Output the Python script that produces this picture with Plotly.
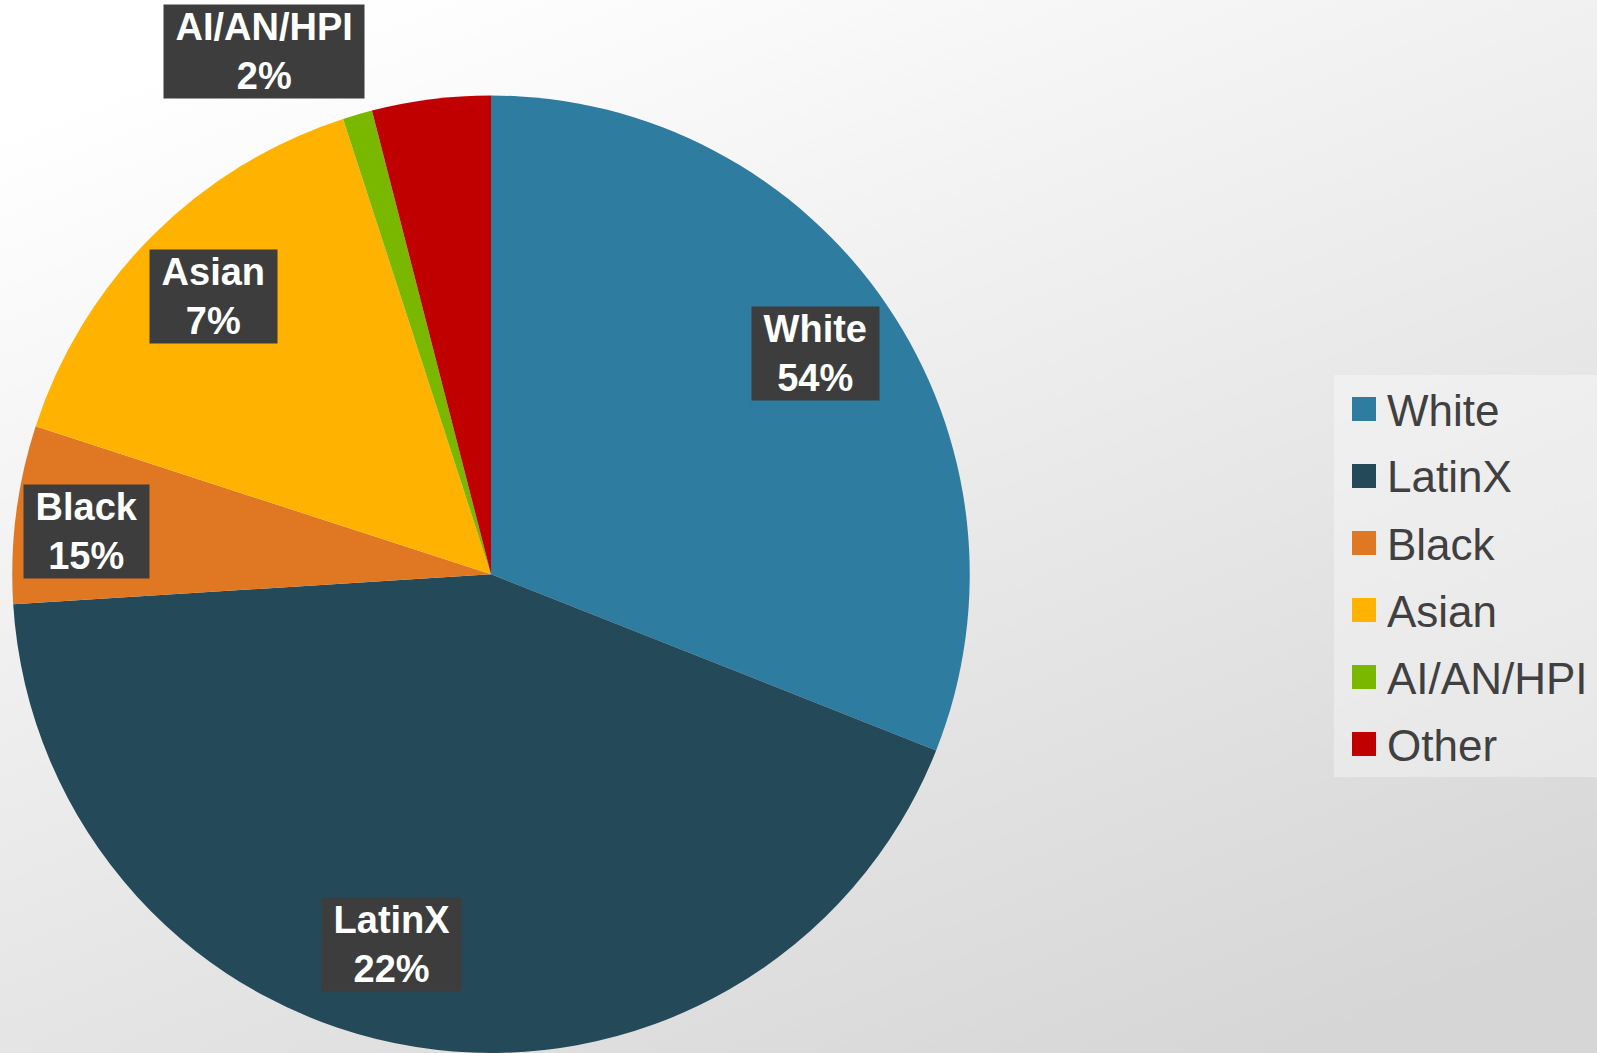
import base64
import math
import plotly.graph_objects as go

# ---------------- data ----------------
categories = ["White", "LatinX", "Black", "Asian", "AI/AN/HPI", "Other"]
slice_values = [31, 43, 6, 15, 1, 4]
label_texts = ["54%", "22%", "15%", "7%", "2%", ""]
colors = ["#2E7C9F", "#244A5A", "#E07722", "#FFB300", "#7AB800", "#C00000"]

# ---------------- layout geometry ----------------
W, H = 1597, 1053
CX, CY, R = 491, 574.5, 479  # pie centre / radius in pixels

dom_x = [(CX - R) / W, (CX + R) / W]
dom_y = [max(0, 1 - (CY + R) / H), 1 - (CY - R) / H]

fig = go.Figure()
fig.add_trace(go.Pie(
    labels=categories,
    values=slice_values,
    sort=False,
    direction="clockwise",
    rotation=0,
    marker=dict(colors=colors, line=dict(width=0)),
    textinfo="none",
    hoverinfo="label+percent",
    domain=dict(x=dom_x, y=dom_y),
    showlegend=False,
))

# background gradient
svg = (
    f'<svg xmlns="http://www.w3.org/2000/svg" width="{W}" height="{H}" preserveAspectRatio="none">'
    '<defs><linearGradient id="g" x1="0.2" y1="0" x2="0.8" y2="1">'
    '<stop offset="0" stop-color="#ffffff"/><stop offset="1" stop-color="#d6d6d6"/>'
    '</linearGradient></defs>'
    f'<rect width="{W}" height="{H}" fill="url(#g)"/></svg>'
)
bg_src = "data:image/svg+xml;base64," + base64.b64encode(svg.encode()).decode()

annotations = []
shapes = []

# data labels placed at slice mid-angles
label_r = 0.82
nudges = {"LatinX": (6.0, 0.80), "Black": (-1.2, 0.85), "AI/AN/HPI": (-7.3, 1.19)}
total = sum(slice_values)
cum = 0.0
for cat, v, t in zip(categories, slice_values, label_texts):
    mid = (cum + v / 2) / total * 360.0
    cum += v
    if not t:
        continue
    dang, rr = nudges.get(cat, (0.0, label_r))
    a = math.radians(mid + dang)
    px = CX + rr * R * math.sin(a)
    py = CY - rr * R * math.cos(a)
    annotations.append(dict(
        x=px / W, y=1 - py / H, xref="paper", yref="paper",
        xanchor="center", yanchor="middle", align="center",
        text=f"\u00a0{cat}\u00a0<br>{t}",
        showarrow=False,
        font=dict(family="Liberation Sans", size=38, color="white", weight="bold"),
        bgcolor="#3d3d3d", borderpad=1,
    ))

# custom legend
LEG_X0, LEG_Y0, LEG_Y1 = 1334, 375, 777
shapes.append(dict(type="rect", xref="paper", yref="paper",
                   x0=LEG_X0 / W, x1=1, y0=1 - LEG_Y1 / H, y1=1 - LEG_Y0 / H,
                   fillcolor="rgba(255,255,255,0.35)", line=dict(width=0), layer="below"))
first_y, step, sq = 409, 67, 24
for i, (cat, col) in enumerate(zip(categories, colors)):
    yc = first_y + i * step
    shapes.append(dict(type="rect", xref="paper", yref="paper",
                       x0=1352 / W, x1=(1352 + sq) / W,
                       y0=1 - (yc + sq / 2) / H, y1=1 - (yc - sq / 2) / H,
                       fillcolor=col, line=dict(width=0)))
    annotations.append(dict(
        x=1385 / W, y=1 - (yc + 1) / H, xref="paper", yref="paper",
        xanchor="left", yanchor="middle", text=cat, showarrow=False,
        font=dict(family="Liberation Sans", size=44, color="#404040"),
    ))

fig.update_layout(
    width=W, height=H,
    margin=dict(l=0, r=0, t=0, b=0),
    paper_bgcolor="#eeeeee",
    plot_bgcolor="rgba(0,0,0,0)",
    showlegend=False,
    images=[dict(source=bg_src, xref="paper", yref="paper", x=0, y=1,
                 sizex=1, sizey=1, sizing="stretch", xanchor="left", yanchor="top",
                 layer="below")],
    annotations=annotations,
    shapes=shapes,
)

fig.write_html("out.html")
